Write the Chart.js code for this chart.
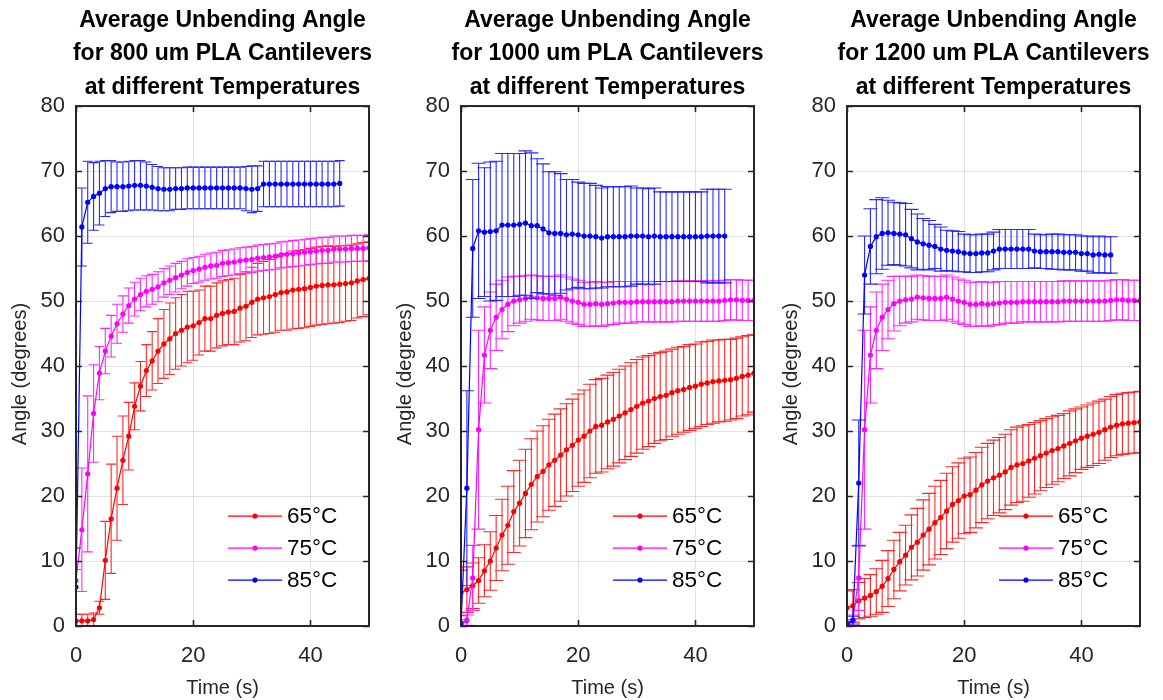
<!DOCTYPE html>
<html><head><meta charset="utf-8">
<script src="https://cdn.jsdelivr.net/npm/chart.js@4.4.1/dist/chart.umd.min.js"></script>
<style>
html,body{margin:0;padding:0;background:#fff;}
#wrap{position:relative;width:1163px;height:700px;overflow:hidden;background:#fff;}
canvas{position:absolute;top:0;}
</style></head><body><div id="wrap">
<canvas id="c1" width="443" height="700" style="left:1px"></canvas>
<canvas id="c2" width="443" height="700" style="left:386px"></canvas>
<canvas id="c3" width="443" height="700" style="left:772px"></canvas>
</div>
<script>
// ---------- data ----------
const time51 = [0,1,2,3,4,5,6,7,8,9,10,11,12,13,14,15,16,17,18,19,20,21,22,23,24,25,26,27,28,29,30,31,32,33,34,35,36,37,38,39,40,41,42,43,44,45,46,47,48,49,50];
const time46 = [0,1,2,3,4,5,6,7,8,9,10,11,12,13,14,15,16,17,18,19,20,21,22,23,24,25,26,27,28,29,30,31,32,33,34,35,36,37,38,39,40,41,42,43,44,45];
const xTicks = [0,20,40];
const yTicks = [0,10,20,30,40,50,60,70,80];
const legendLabels = ['65\u00B0C','75\u00B0C','85\u00B0C'];
const xTitle = 'Time (s)';
const yTitle = 'Angle (degrees)';
const titles800  = ['Average Unbending Angle','for 800 um PLA Cantilevers','at different Temperatures'];
const titles1000 = ['Average Unbending Angle','for 1000 um PLA Cantilevers','at different Temperatures'];
const titles1200 = ['Average Unbending Angle','for 1200 um PLA Cantilevers','at different Temperatures'];

// 800 um
const a800_65 = [0.8,0.8,0.8,1.0,2.8,10.1,16.5,21.2,25.5,29.2,33.8,36.9,39.3,40.8,42.3,43.4,44.2,45.0,45.5,46.0,46.2,46.7,47.3,47.3,47.8,48.1,48.3,48.4,48.9,49.2,49.8,50.3,50.5,50.7,51.0,51.3,51.4,51.7,51.8,51.9,52.1,52.3,52.4,52.5,52.5,52.6,52.7,52.8,53.1,53.3,53.5];
const e800_65 = [1,1,1,1,1,6,8.4,8,6.8,5.2,3.6,3.8,4,4.5,5,5.3,5.5,5.5,5.5,5.5,5.3,5.0,5.0,5.0,5.0,5.0,5.0,5.1,5.2,5.3,5.4,5.5,5.6,5.7,5.8,5.8,5.9,6.0,6.0,6.0,6.0,6.0,6.0,6.0,5.9,5.9,5.8,5.8,5.7,5.7,5.6];
const a800_75 = [7.0,14.8,23.4,32.7,38.9,42.3,44.6,46.5,48.0,49.3,50.3,51.0,51.5,51.8,52.2,52.8,53.2,53.6,54.0,54.4,54.7,54.9,55.2,55.4,55.5,55.8,55.9,56.0,56.2,56.3,56.4,56.6,56.7,56.8,56.9,57.1,57.2,57.3,57.4,57.5,57.6,57.7,57.8,57.8,58.0,58.0,58.0,58.1,58.1,58.1,58.2];
const e800_75 = [1.7,9.5,12.0,7.5,4.1,3.5,3.2,3.0,2.8,2.7,2.6,2.5,2.4,2.3,2.3,2.2,2.2,2.2,2.1,2.1,2.0,2.0,2.0,2.0,2.0,2.0,2.0,2.0,2.0,2.0,2.0,2.0,2.0,2.0,2.0,2.0,2.0,2.0,2.0,2.0,2.0,2.0,2.0,2.0,2.0,2.0,2.0,2.0,2.0,2.0,2.0];
const a800_85 = [6.0,61.4,65.2,66.1,66.6,67.3,67.6,67.6,67.6,67.7,67.8,67.8,67.7,67.5,67.3,67.2,67.2,67.3,67.3,67.4,67.4,67.4,67.4,67.4,67.4,67.4,67.4,67.4,67.4,67.3,67.2,67.3,68.0,68.0,68.0,68.0,68.0,68.0,68.0,68.0,68.0,68.0,68.0,68.0,68.0,68.1];
const e800_85 = [6,6,6.3,5.2,4.9,4.3,4.0,3.8,3.8,3.8,3.8,3.8,3.7,3.5,3.4,3.3,3.3,3.2,3.2,3.2,3.2,3.2,3.2,3.2,3.2,3.2,3.2,3.2,3.2,3.4,3.6,3.5,3.5,3.5,3.5,3.5,3.5,3.5,3.5,3.5,3.5,3.5,3.5,3.5,3.5,3.5];

// 1000 um
const a1000_65 = [5.1,5.6,6.2,7.0,8.5,10.0,12.0,14.0,15.5,17.6,18.9,20.4,21.8,23.0,23.8,24.8,25.5,26.3,27.1,27.8,28.6,29.2,30.0,30.7,30.9,31.4,31.8,32.3,32.8,33.3,33.8,34.3,34.6,35.0,35.3,35.5,35.9,36.2,36.4,36.7,36.9,37.2,37.4,37.6,37.7,37.8,37.9,38.1,38.4,38.6,38.9];
const e1000_65 = [3.5,3.5,3.5,3.5,4,4.5,5,5.5,6,6.3,6.6,6.8,7,7,7,7,7.1,7.1,7.1,7.1,7.1,7.1,7.2,7.2,7.2,7.2,7.2,7.2,7.2,7.2,7.2,7.1,7.0,6.9,6.8,6.8,6.7,6.7,6.6,6.6,6.5,6.5,6.4,6.4,6.3,6.3,6.2,6.2,6.1,6.1,6.0];
const a1000_75 = [0.5,0.9,7.4,30.2,41.7,45.5,47.5,48.7,49.5,50.0,50.2,50.4,50.6,50.5,50.4,50.4,50.4,50.6,50.3,50.0,49.8,49.5,49.5,49.6,49.5,49.6,49.7,49.8,49.8,49.8,49.9,49.9,49.9,49.9,49.9,49.9,49.9,50.0,50.0,50.0,50.0,50.0,50.0,50.0,50.0,50.1,50.2,50.2,50.1,50.1,50.1];
const e1000_75 = [0.5,0.8,5.0,15.3,7.4,5.9,5.1,4.5,4.2,3.8,3.6,3.5,3.4,3.4,3.4,3.4,3.4,3.4,3.4,3.4,3.4,3.4,3.4,3.4,3.4,3.3,3.3,3.2,3.2,3.2,3.1,3.1,3.1,3.1,3.1,3.1,3.1,3.1,3.1,3.1,3.1,3.1,3.1,3.1,3.1,3.1,3.1,3.1,3.1,3.1,3.1];
const a1000_85 = [0.2,21.2,58.1,60.8,60.6,60.7,60.8,61.7,61.7,61.7,61.8,62.0,61.6,61.6,61.1,60.5,60.4,60.4,60.2,60.3,60.2,60.0,60.0,59.9,59.7,59.9,59.9,59.9,59.9,60.0,60.0,60.0,59.9,60.0,59.9,59.9,59.9,59.9,59.9,59.9,59.9,59.9,60.0,60.0,60.0,60.0];
const e1000_85 = [0.3,15,10.6,10.4,9.9,10.7,10.7,11.0,11.0,11.0,10.9,11.1,11.2,10.3,10.0,9.4,9.5,9.2,8.5,8.4,8.1,8.1,8.1,7.9,7.7,7.7,7.7,7.7,7.7,7.7,7.4,7.4,7.4,7.4,6.9,6.9,6.9,6.9,6.9,6.9,6.9,6.9,7.2,7.2,7.2,7.2];

// 1200 um
const a1200_65 = [2.8,3.1,3.9,4.3,4.7,5.3,6.1,7.3,8.7,9.9,10.9,12.1,12.9,14.0,14.9,15.9,16.7,17.7,18.7,19.3,20.0,20.2,20.9,21.7,22.3,22.8,23.2,23.7,24.4,24.8,25.0,25.4,25.8,26.2,26.6,27.0,27.3,27.7,28.1,28.5,28.9,29.2,29.5,29.8,30.2,30.6,30.9,31.1,31.2,31.3,31.4];
const e1200_65 = [2.6,2.5,2.8,3.0,3.2,3.5,4.0,4.3,4.5,4.5,4.6,5.0,5.2,5.4,5.5,5.6,5.7,5.8,5.8,5.8,5.8,5.8,5.8,5.8,5.8,5.8,5.8,5.8,5.8,5.8,5.8,5.6,5.5,5.4,5.3,5.2,5.1,5.0,5.0,4.9,4.8,4.8,4.8,4.8,4.7,4.7,4.7,4.7,4.7,4.7,4.7];
const a1200_75 = [0.5,0.9,7.4,30.2,41.7,45.5,47.5,48.7,49.6,50.0,50.2,50.3,50.6,50.5,50.4,50.4,50.4,50.6,50.3,50.0,49.8,49.5,49.5,49.6,49.5,49.6,49.7,49.8,49.8,49.8,49.9,49.9,49.9,49.9,49.9,49.9,49.9,50.0,50.0,50.0,50.0,50.0,50.0,50.0,50.0,50.1,50.2,50.2,50.1,50.1,50.1];
const e1200_75 = [0.5,0.8,5.0,15.3,7.4,5.9,5.1,4.5,4.2,3.8,3.6,3.5,3.4,3.4,3.4,3.4,3.4,3.4,3.4,3.4,3.4,3.4,3.4,3.4,3.4,3.3,3.3,3.2,3.2,3.2,3.1,3.1,3.1,3.1,3.1,3.1,3.1,3.1,3.1,3.1,3.1,3.1,3.1,3.1,3.1,3.1,3.1,3.1,3.1,3.1,3.1];
const a1200_85 = [0.2,0.9,22.0,54.0,58.4,59.9,60.4,60.5,60.4,60.3,60.2,59.6,59.1,58.8,58.6,58.4,58.0,57.8,57.7,57.6,57.4,57.3,57.3,57.4,57.4,57.7,58.0,58.0,58.0,58.0,58.0,58.0,57.7,57.6,57.6,57.6,57.6,57.5,57.5,57.5,57.3,57.3,57.1,57.2,57.1,57.1];
const e1200_85 = [0.4,0.6,9.7,6.0,5.8,5.7,5.5,5.0,4.8,4.8,4.8,4.5,4.3,3.9,3.8,3.4,3.4,3.1,3.1,3.1,2.9,2.9,2.9,2.9,2.9,2.9,3.0,3.0,3.0,3.0,3.0,3.0,2.6,2.6,2.6,2.7,2.7,2.7,2.7,2.7,2.7,2.7,2.8,2.8,2.8,2.8];

// ---------- styling ----------
const FONT = "'Liberation Sans', Arial, Helvetica, sans-serif";
const COLORS = ['#ff0000','#ff00ff','#0000ff'];
const BARCOLORS = ['rgb(255,40,40)','rgb(255,40,255)','rgb(40,40,255)'];
const AXIS = '#262626';

const errPlugin = {
  id: 'errbars',
  beforeDatasetDraw(chart, args) {
    const ds = chart.data.datasets[args.index];
    if (!ds.errValues) return;
    const meta = args.meta, ctx = chart.ctx, ys = chart.scales.y, a = chart.chartArea;
    const cap = chart.options.plugins.errbars.cap;
    const col = BARCOLORS[ds.colorIndex];
    ctx.save();
    ctx.beginPath(); ctx.rect(a.left, a.top, a.right - a.left, a.bottom - a.top); ctx.clip();
    ctx.lineWidth = 1.1;
    ctx.strokeStyle = col;
    ctx.globalCompositeOperation = 'source-over';
    ds.data.forEach((p, k) => {
      const e = ds.errValues[k];
      if (e == null || p.y == null) return;
      const x = meta.data[k].x;
      const y1 = ys.getPixelForValue(p.y - e);
      const y2 = ys.getPixelForValue(p.y + e);
      ctx.beginPath();
      ctx.moveTo(x, y1); ctx.lineTo(x, y2);
      ctx.stroke();
      ctx.beginPath();
      ctx.moveTo(x - cap, y1); ctx.lineTo(x + cap, y1);
      ctx.moveTo(x - cap, y2); ctx.lineTo(x + cap, y2);
      ctx.stroke();
    });
    ctx.restore();
  }
};

const framePlugin = {
  id: 'frame',
  afterDraw(chart) {
    const ctx = chart.ctx, a = chart.chartArea, xs = chart.scales.x, ys = chart.scales.y;
    ctx.save();
    ctx.strokeStyle = AXIS;
    const tl = 6;
    ctx.beginPath();
    yTicks.forEach(v => {
      const y = Math.round(ys.getPixelForValue(v)) + 0.5;
      ctx.moveTo(a.left, y); ctx.lineTo(a.left + tl, y);
      ctx.moveTo(a.right, y); ctx.lineTo(a.right - tl, y);
    });
    xTicks.forEach(v => {
      const x = Math.round(xs.getPixelForValue(v)) + 0.5;
      ctx.moveTo(x, a.bottom); ctx.lineTo(x, a.bottom - tl);
      ctx.moveTo(x, a.top); ctx.lineTo(x, a.top + tl);
    });
    ctx.lineWidth = 1.6;
    ctx.stroke();
    ctx.lineWidth = 2;
    ctx.strokeRect(a.left, a.top, a.right - a.left, a.bottom - a.top);
    // y-axis title
    ctx.save();
    ctx.translate(a.left - 56, a.top + 268);
    ctx.rotate(-Math.PI / 2);
    ctx.font = '20px ' + FONT;
    ctx.fillStyle = AXIS;
    ctx.textAlign = 'center';
    ctx.textBaseline = 'middle';
    ctx.fillText(yTitle, 0, 0);
    ctx.restore();
    // legend
    ctx.font = '22.5px ' + FONT;
    ctx.textBaseline = 'middle';
    ctx.textAlign = 'left';
    legendLabels.forEach((lab, i) => {
      const y = a.top + 410 + i * 32;
      ctx.strokeStyle = COLORS[i]; ctx.lineWidth = 1.2;
      ctx.beginPath(); ctx.moveTo(a.left + 152, y); ctx.lineTo(a.left + 206, y); ctx.stroke();
      ctx.fillStyle = COLORS[i];
      ctx.beginPath(); ctx.arc(a.left + 179, y, 2.6, 0, Math.PI * 2); ctx.fill();
      ctx.fillStyle = '#000';
      ctx.fillText(lab, a.left + 211, y + 1);
    });
    ctx.restore();
  }
};

function makeSeries(time, mean, err, i) {
  return {
    label: legendLabels[i],
    data: time.map((t, k) => ({ x: t, y: mean[k] })),
    errValues: err,
    colorIndex: i,
    borderColor: COLORS[i],
    backgroundColor: COLORS[i],
    borderWidth: 1.2,
    pointRadius: 2.6,
    pointHoverRadius: 2.6,
    pointBorderWidth: 0,
    tension: 0,
    fill: false,
    order: 3 - i
  };
}

function makeChart(id, title, series, cap) {
  return new Chart(document.getElementById(id), {
    type: 'line',
    data: { datasets: series },
    options: {
      responsive: false, animation: false, devicePixelRatio: 1,
      events: [],
      layout: { padding: 0 },
      plugins: {
        legend: { display: false },
        tooltip: { enabled: false },
        errbars: { cap: cap },
        title: {
          display: true, text: title, color: '#000',
          font: { family: FONT, size: 23, weight: 'bold', lineHeight: 1.45 },
          padding: { top: 4, bottom: 2 }
        }
      },
      scales: {
        x: {
          type: 'linear', min: 0, max: 50,
          afterBuildTicks: s => { s.ticks = xTicks.map(v => ({ value: v })); },
          afterFit: s => { s.height = 74; },
          grid: { color: 'rgba(38,38,38,0.13)', drawTicks: false, lineWidth: 1 },
          border: { display: false },
          ticks: { padding: 17, color: AXIS, font: { family: FONT, size: 22 }, maxRotation: 0 },
          title: { display: true, text: xTitle, color: AXIS, font: { family: FONT, size: 20 }, padding: { top: 0, bottom: 0 } }
        },
        y: {
          type: 'linear', min: 0, max: 80, position: 'left',
          afterBuildTicks: s => { s.ticks = yTicks.map(v => ({ value: v })); },
          afterFit: s => { s.width = 75; },
          grid: { color: 'rgba(38,38,38,0.13)', drawTicks: false, lineWidth: 1 },
          border: { display: false },
          ticks: { padding: 11, color: AXIS, font: { family: FONT, size: 22 } }
        },
        yr: {
          type: 'linear', min: 0, max: 80, position: 'right',
          afterFit: s => { s.width = 75; },
          grid: { display: false, drawTicks: false },
          border: { display: false },
          ticks: { display: false }
        }
      }
    },
    plugins: [errPlugin, framePlugin]
  });
}

makeChart('c1', titles800, [
  makeSeries(time51, a800_65, e800_65, 0),
  makeSeries(time51, a800_75, e800_75, 1),
  makeSeries(time46, a800_85, e800_85, 2)
], 5);
makeChart('c2', titles1000, [
  makeSeries(time51, a1000_65, e1000_65, 0),
  makeSeries(time51, a1000_75, e1000_75, 1),
  makeSeries(time46, a1000_85, e1000_85, 2)
], 7);
makeChart('c3', titles1200, [
  makeSeries(time51, a1200_65, e1200_65, 0),
  makeSeries(time51, a1200_75, e1200_75, 1),
  makeSeries(time46, a1200_85, e1200_85, 2)
], 7);
</script>
</body></html>
